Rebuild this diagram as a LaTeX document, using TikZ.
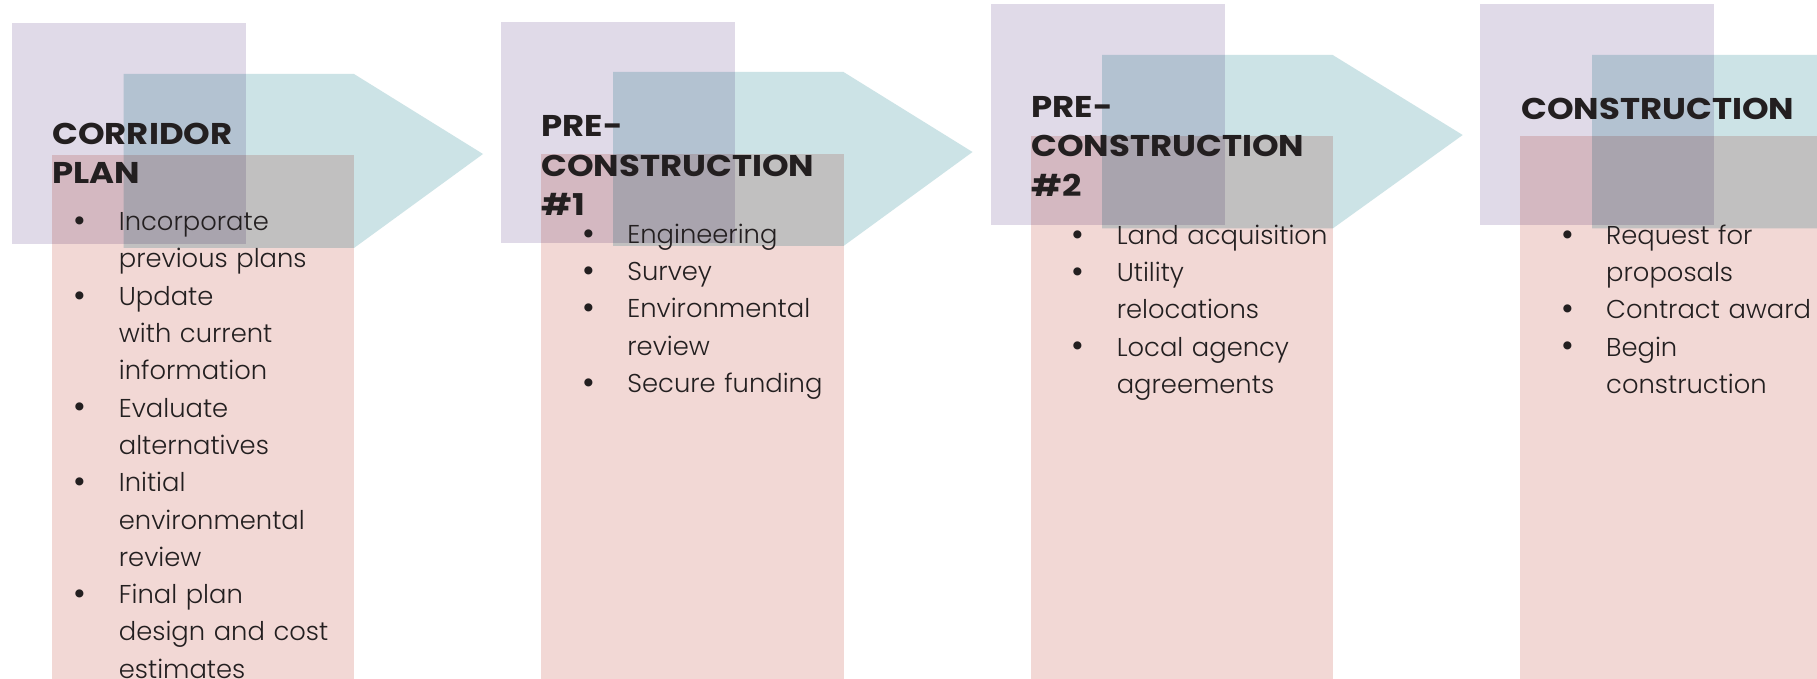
\documentclass[tikz,border=0pt]{standalone}
\usepackage{fontspec}
\setmainfont{Poppins}[UprightFont=* Light, BoldFont=* Bold]
\newfontfamily\headfont{Poppins}[UprightFont=* Bold, FakeStretch=1.13]
\usetikzlibrary{calc}

\definecolor{lilac}{RGB}{224,218,232}
\definecolor{aqua}{RGB}{204,227,230}
\definecolor{blush}{RGB}{242,216,213}
\definecolor{ink}{RGB}{35,31,32}

\newcommand{\bul}{\makebox[21.5pt][l]{\hspace*{-1pt}\raisebox{-0.9pt}{\scalebox{1.35}{\textbullet}}}}
\newcommand{\cnt}{\hspace*{21.5pt}}

\begin{document}
\begin{tikzpicture}[x=0.5pt,y=-0.5pt,
  back box/.style={fill=lilac,blend mode=multiply},
  arrow box/.style={fill=aqua,blend mode=multiply},
  list box/.style={fill=blush,blend mode=multiply},
  phase/.style={anchor=base west,align=left,text width=170pt,inner sep=0pt,
    text=ink,font=\fontsize{15}{19.75}\selectfont\headfont},
  tasks/.style={anchor=base west,align=left,text width=170pt,inner sep=0pt,
    text=ink,font=\fontsize{12.9}{18.65}\selectfont}]

  \useasboundingbox (0,0) rectangle (1817,679);
  \fill[white] (0,0) rectangle (1817,679);

  % corridor plan
  \fill[back box] (12,23) rectangle (246,244);
  \fill[arrow box] (123.5,74) -- (354,74) -- (483,154) -- (354,248) -- (123.5,248) -- cycle;
  \fill[list box] (52,155) rectangle (354,679);

  % pre-construction 1
  \fill[back box] (501,22) rectangle (735,243);
  \fill[arrow box] (613,72) -- (843.5,72) -- (972.5,152) -- (843.5,246) -- (613,246) -- cycle;
  \fill[list box] (541,154) rectangle (843.5,679);

  % pre-construction 2
  \fill[back box] (991,4) rectangle (1225,225);
  \fill[arrow box] (1102,55) -- (1332.7,55) -- (1462.7,135) -- (1332.7,228.5) -- (1102,228.5) -- cycle;
  \fill[list box] (1031,136) rectangle (1332.7,679);

  % construction
  \fill[back box] (1480,4) rectangle (1714,225);
  \fill[arrow box] (1592,55) -- (1822,55) -- (1951,135) -- (1822,228.5) -- (1592,228.5) -- cycle;
  \fill[list box] (1520,136) rectangle (1822,679);

  \node[phase] (p1) at (52,144.3) {CORRIDOR\\PLAN};
  \node[phase] (p2) at (541,136.7) {PRE-\\CONSTRUCTION\\\#1};
  \node[phase] (p3) at (1031,117.3) {PRE-\\CONSTRUCTION\\\#2};
  \node[phase] (p4) at (1521,120) {CONSTRUCTION};

  \node[tasks] (t1) at (75.5,230.7) {\bul Incorporate\\ \cnt previous plans\\
    \bul Update\\ \cnt with current\\ \cnt information\\
    \bul Evaluate\\ \cnt alternatives\\
    \bul Initial\\ \cnt environmental\\ \cnt review\\
    \bul Final plan\\ \cnt design and cost\\ \cnt estimates};
  \node[tasks] (t2) at (584,243.3) {\bul Engineering\\ \bul Survey\\
    \bul Environmental\\ \cnt review\\ \bul Secure funding};
  \node[tasks] (t3) at (1073.4,244.3) {\bul Land acquisition\\
    \bul Utility\\ \cnt relocations\\ \bul Local agency\\ \cnt agreements};
  \node[tasks] (t4) at (1562.8,244.3) {\bul Request for\\ \cnt proposals\\
    \bul Contract award\\ \bul Begin\\ \cnt construction};
\end{tikzpicture}
\end{document}
